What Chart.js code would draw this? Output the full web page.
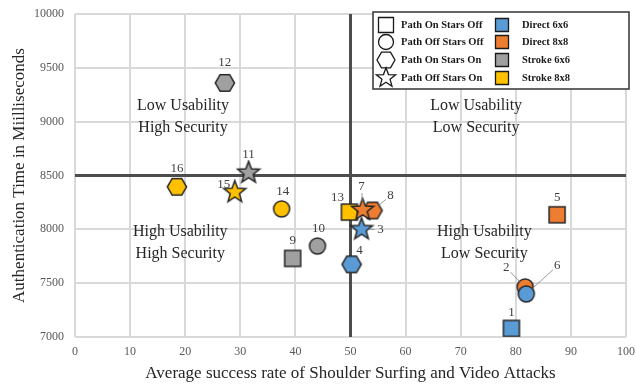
<!DOCTYPE html>
<html lang="en">
<head>
    <meta charset="UTF-8" />
    <title>Usability vs Security</title>
    <script src="https://cdn.jsdelivr.net/npm/chart.js@4.4.1/dist/chart.umd.min.js"></script>
    <style>
        html, body { margin: 0; padding: 0; background: #fff; }
        #wrap { width: 636px; height: 386px; }
    </style>
</head>
<body>
    <div id="wrap"><canvas id="scatter" width="636" height="386"></canvas></div>

    <script>
        // point data, listed in drawing order
        const pointIds   = [1, 2, 3, 4, 5, 6, 13, 8, 7, 9, 10, 11, 12, 14, 15, 16];
        const attackRate = [79.2, 81.7, 52.0, 50.2, 87.5, 81.9, 49.8, 54.0, 52.2, 39.5, 44.0, 31.5, 27.2, 37.5, 29.0, 18.5];
        const authTime   = [7080, 7465, 8000, 7675, 8135, 7400, 8160, 8175, 8180, 7730, 7845, 8525, 9360, 8190, 8345, 8395];
        const layouts    = ['Direct 6x6', 'Direct 8x8', 'Direct 6x6', 'Direct 6x6', 'Direct 8x8', 'Direct 6x6', 'Stroke 8x8', 'Direct 8x8', 'Direct 8x8',
                            'Stroke 6x6', 'Stroke 6x6', 'Stroke 6x6', 'Stroke 6x6', 'Stroke 8x8', 'Stroke 8x8', 'Stroke 8x8'];
        const modes      = ['Path On Stars Off', 'Path Off Stars Off', 'Path Off Stars On', 'Path On Stars On', 'Path On Stars Off', 'Path Off Stars Off', 'Path On Stars Off', 'Path On Stars On', 'Path Off Stars On',
                            'Path On Stars Off', 'Path Off Stars Off', 'Path Off Stars On', 'Path On Stars On', 'Path Off Stars Off', 'Path Off Stars On', 'Path On Stars On'];

        const modeNames   = ['Path On Stars Off', 'Path Off Stars Off', 'Path On Stars On', 'Path Off Stars On'];
        const layoutNames = ['Direct 6x6', 'Direct 8x8', 'Stroke 6x6', 'Stroke 8x8'];
        const xTicks = [0, 10, 20, 30, 40, 50, 60, 70, 80, 90, 100];
        const yTicks = [7000, 7500, 8000, 8500, 9000, 9500, 10000];
        const xSplit = 50;
        const ySplit = 8500;
        const quadrantText = [
            { x: 19.6, y: 9150, lines: ['Low Usability', 'High Security'] },
            { x: 72.8, y: 9150, lines: ['Low Usability', 'Low Security'] },
            { x: 19.1, y: 7975, lines: ['High Usability', 'High Security'] },
            { x: 74.3, y: 7975, lines: ['High Usability', 'Low Security'] }
        ];

        // styling
        const layoutColors = {
            'Direct 6x6': '#5b9bd5',
            'Direct 8x8': '#ed7d31',
            'Stroke 6x6': '#a0a0a0',
            'Stroke 8x8': '#ffc000'
        };
        const modeShape = {
            'Path On Stars Off': 'square',
            'Path Off Stars Off': 'circle',
            'Path On Stars On': 'hexagon',
            'Path Off Stars On': 'star'
        };
        // label offsets from the point, [dx, dy, leader line?]
        const labelOffsets = {
            1: [0, -16], 2: [-19, -19, true], 3: [19, 0, true], 4: [8, -14],
            5: [0, -17], 6: [31, -28, true], 7: [-1, -23, true], 8: [18, -15, true],
            9: [0, -18], 10: [1, -17], 11: [0, -18], 12: [0, -20],
            13: [-12, -15], 14: [1, -17], 15: [-11, -8], 16: [0, -18]
        };
        const serif = '"Liberation Serif", "DejaVu Serif", serif';

        function shapePath(ctx, shape, cx, cy, s) {
            ctx.beginPath();
            if (shape === 'square') {
                ctx.rect(cx - s / 2, cy - s / 2, s, s);
            } else if (shape === 'circle') {
                ctx.arc(cx, cy, s / 2, 0, Math.PI * 2);
            } else if (shape === 'hexagon') {
                const r = s * 0.6;
                for (let i = 0; i < 6; i++) {
                    const a = Math.PI / 3 * i;
                    const px = cx + r * Math.cos(a), py = cy + r * Math.sin(a);
                    if (i === 0) ctx.moveTo(px, py); else ctx.lineTo(px, py);
                }
                ctx.closePath();
            } else if (shape === 'star') {
                const ro = s * 0.68, ri = ro * 0.42;
                for (let i = 0; i < 10; i++) {
                    const r = i % 2 === 0 ? ro : ri;
                    const a = -Math.PI / 2 + Math.PI / 5 * i;
                    const px = cx + r * Math.cos(a), py = cy + r * Math.sin(a);
                    if (i === 0) ctx.moveTo(px, py); else ctx.lineTo(px, py);
                }
                ctx.closePath();
            }
        }

        function makeMarker(shape, fill, s) {
            const c = document.createElement('canvas');
            c.width = 26; c.height = 26;
            const g = c.getContext('2d');
            shapePath(g, shape, 13, 13, s);
            g.fillStyle = fill;
            g.fill();
            g.lineWidth = 1.5;
            g.strokeStyle = '#262626';
            g.lineJoin = 'miter';
            g.stroke();
            return c;
        }

        const pointData = pointIds.map((id, i) => ({ x: attackRate[i], y: authTime[i] }));
        const pointStyles = pointIds.map((id, i) => {
            const shape = modeShape[modes[i]];
            const size = shape === 'star' ? 17 : 16;
            return makeMarker(shape, layoutColors[layouts[i]], size);
        });

        const overlay = {
            id: 'overlay',
            beforeDatasetsDraw(chart) {
                const { ctx, chartArea: a, scales: { x, y } } = chart;
                ctx.save();
                // quadrant split lines
                ctx.strokeStyle = '#4d4d4d';
                ctx.lineWidth = 3;
                ctx.beginPath();
                const sx = x.getPixelForValue(xSplit);
                ctx.moveTo(sx, a.top); ctx.lineTo(sx, a.bottom);
                const sy = y.getPixelForValue(ySplit);
                ctx.moveTo(a.left, sy); ctx.lineTo(a.right, sy);
                ctx.stroke();
                // quadrant captions
                ctx.font = '16px ' + serif;
                ctx.fillStyle = '#262626';
                ctx.textAlign = 'center';
                ctx.textBaseline = 'middle';
                quadrantText.forEach(q => {
                    const px = x.getPixelForValue(q.x), py = y.getPixelForValue(q.y);
                    q.lines.forEach((t, k) => ctx.fillText(t, px, py + k * 22));
                });
                ctx.restore();
            },
            afterDatasetsDraw(chart) {
                const { ctx } = chart;
                const meta = chart.getDatasetMeta(0);
                ctx.save();
                ctx.font = '13px ' + serif;
                ctx.fillStyle = '#404040';
                ctx.textAlign = 'center';
                ctx.textBaseline = 'middle';
                meta.data.forEach((el, i) => {
                    const off = labelOffsets[pointIds[i]];
                    const lx = el.x + off[0], ly = el.y + off[1];
                    if (off[2]) {
                        ctx.strokeStyle = '#808080';
                        ctx.lineWidth = 0.8;
                        ctx.beginPath();
                        const len = Math.hypot(off[0], off[1]);
                        const ux = off[0] / len, uy = off[1] / len;
                        ctx.moveTo(el.x + ux * 8, el.y + uy * 8);
                        ctx.lineTo(lx - ux * 6, ly - uy * 6);
                        ctx.stroke();
                    }
                    ctx.fillText(String(pointIds[i]), lx, ly);
                });

                // legend box
                const bx = 373, by = 12, bw = 256, bh = 77;
                ctx.fillStyle = '#fff';
                ctx.fillRect(bx, by, bw, bh);
                ctx.strokeStyle = '#333';
                ctx.lineWidth = 1.5;
                ctx.strokeRect(bx, by, bw, bh);
                ctx.font = 'bold 10.5px ' + serif;
                ctx.textAlign = 'left';
                const rows = [25, 42, 60, 78];
                modeNames.forEach((m, k) => {
                    shapePath(ctx, modeShape[m], 386, rows[k], 15);
                    ctx.fillStyle = '#fff';
                    ctx.fill();
                    ctx.strokeStyle = '#1a1a1a';
                    ctx.lineWidth = 1.3;
                    ctx.stroke();
                    ctx.fillStyle = '#1a1a1a';
                    ctx.fillText(m, 401, rows[k]);
                });
                layoutNames.forEach((l, k) => {
                    shapePath(ctx, 'square', 502, rows[k], 13);
                    ctx.fillStyle = layoutColors[l];
                    ctx.fill();
                    ctx.strokeStyle = '#1a1a1a';
                    ctx.lineWidth = 1.3;
                    ctx.stroke();
                    ctx.fillStyle = '#1a1a1a';
                    ctx.fillText(l, 522, rows[k]);
                });
                ctx.restore();
            }
        };

        new Chart(document.getElementById('scatter'), {
            type: 'scatter',
            data: {
                datasets: [{
                    data: pointData,
                    pointStyle: pointStyles,
                    pointRadius: 9,
                    pointHoverRadius: 9
                }]
            },
            options: {
                responsive: false,
                animation: false,
                layout: { padding: { left: 0, right: 9, top: 14, bottom: 0 } },
                plugins: {
                    legend: { display: false },
                    tooltip: { enabled: false }
                },
                scales: {
                    x: {
                        type: 'linear',
                        min: xTicks[0],
                        max: xTicks[xTicks.length - 1],
                        afterBuildTicks: s => { s.ticks = xTicks.map(v => ({ value: v })); },
                        afterFit: s => { s.height = 49; s.paddingLeft = 0; s.paddingRight = 0; },
                        grid: { color: '#d9d9d9', lineWidth: 2, drawTicks: false },
                        border: { display: false },
                        ticks: { color: '#595959', font: { family: serif, size: 12 }, padding: 8, callback: v => String(v) },
                        title: {
                            display: true,
                            text: 'Average success rate of Shoulder Surfing and Video Attacks',
                            color: '#262626',
                            font: { family: serif, size: 17 },
                            padding: { top: 0, bottom: 2 }
                        }
                    },
                    y: {
                        type: 'linear',
                        min: yTicks[0],
                        max: yTicks[yTicks.length - 1],
                        afterBuildTicks: s => { s.ticks = yTicks.map(v => ({ value: v })); },
                        afterFit: s => { s.width = 75; s.paddingTop = 0; s.paddingBottom = 0; },
                        grid: { color: '#d9d9d9', lineWidth: 2, drawTicks: false },
                        border: { display: false },
                        ticks: { color: '#595959', font: { family: serif, size: 12 }, padding: 11, callback: v => String(v) },
                        title: {
                            display: true,
                            text: 'Authentication Time in Miilliseconds',
                            color: '#262626',
                            font: { family: serif, size: 17 },
                            padding: { top: 9, bottom: 0 }
                        }
                    }
                }
            },
            plugins: [overlay]
        });
    </script>
</body>
</html>
